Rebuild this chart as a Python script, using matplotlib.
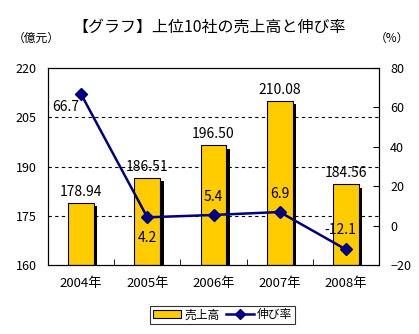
import matplotlib
matplotlib.use("Agg")
import matplotlib.pyplot as plt
import matplotlib.patheffects as pe
from matplotlib.lines import Line2D
from matplotlib.patches import Patch
import numpy as np

plt.rcParams['font.family'] = ['Noto Sans CJK JP', 'DejaVu Sans']

years = ["2004年", "2005年", "2006年", "2007年", "2008年"]
sales = [178.94, 186.51, 196.50, 210.08, 184.56]
growth = [66.7, 4.2, 5.4, 6.9, -12.1]
sales_labels = ["178.94", "186.51", "196.50", "210.08", "184.56"]
growth_labels = ["66.7", "4.2", "5.4", "6.9", "-12.1"]

fig = plt.figure(figsize=(4.19, 3.34), dpi=100)
ax = fig.add_axes([48/419, 69/334, 331/419, 197/334])
x = np.arange(len(years))

bars = ax.bar(x, [s - 160 for s in sales], bottom=160, width=0.39,
              color="#FFCC00", edgecolor="black", linewidth=0.8, zorder=2)
for b in bars:
    b.set_path_effects([pe.SimplePatchShadow(offset=(2.5, -2.5), shadow_rgbFace="black", alpha=1.0),
                        pe.Normal()])

ax.set_ylim(160, 220)
ax.set_xlim(-0.5, 4.5)
ax.set_yticks([160, 175, 190, 205, 220])
ax.tick_params(axis='y', length=0, labelsize=9, pad=8)
for yv in [175, 190, 205]:
    ax.axhline(yv, color="black", linestyle=(0, (3, 3)), linewidth=0.8, zorder=1)
ax.set_xticks(x)
ax.set_xticklabels(years, fontsize=9.5)
ax.tick_params(axis='x', length=0, pad=9)
ax.set_xticks(np.arange(0.5, 4.5, 1.0), minor=True)
ax.tick_params(axis='x', which='minor', length=4, direction='in')
for s in ax.spines.values():
    s.set_linewidth(0.8)

for xi, s, lab in zip(x, sales, sales_labels):
    ax.text(xi, s + 1.2, lab, ha='center', va='bottom', fontsize=10, zorder=5)

ax2 = ax.twinx()
ax2.set_ylim(-20, 80)
ax2.set_yticks([-20, 0, 20, 40, 60, 80])
ax2.tick_params(axis='y', direction='in', length=4, labelsize=9, pad=8)
ax2.plot(x, growth, color="#000080", linewidth=1.8, marker='D', markersize=6, zorder=4)

# (dx in categories, dy in percent units) for each growth label
offsets = [(-0.23, -6.5), (0, -10.5), (0, 9), (0, 9), (-0.08, 10)]
for xi, g, lab, (dx, dy) in zip(x, growth, growth_labels, offsets):
    ax2.text(xi + dx, g + dy, lab, ha='center', va='center', fontsize=10, zorder=5)

fig.text(0.5, 0.92, "【グラフ】上位10社の売上高と伸び率", ha='center', va='center', fontsize=11.5)
fig.text(0.087, 0.885, "（億元）", ha='center', va='center', fontsize=8.5)
fig.text(0.935, 0.885, "（%）", ha='center', va='center', fontsize=8.5)

handles = [Patch(facecolor="#FFCC00", edgecolor="black", linewidth=0.8),
           Line2D([], [], color="#000080", linewidth=1.8, marker='D', markersize=5)]
leg = fig.legend(handles, ["売上高", "伸び率"], loc='center', bbox_to_anchor=(0.532, 0.057),
                 ncol=2, fontsize=8.5, frameon=True, fancybox=False, edgecolor="black",
                 handlelength=2.3, handletextpad=0.3, columnspacing=0.6, borderpad=0.25)
leg.get_frame().set_linewidth(0.8)

fig.savefig("out.png", dpi=100)
